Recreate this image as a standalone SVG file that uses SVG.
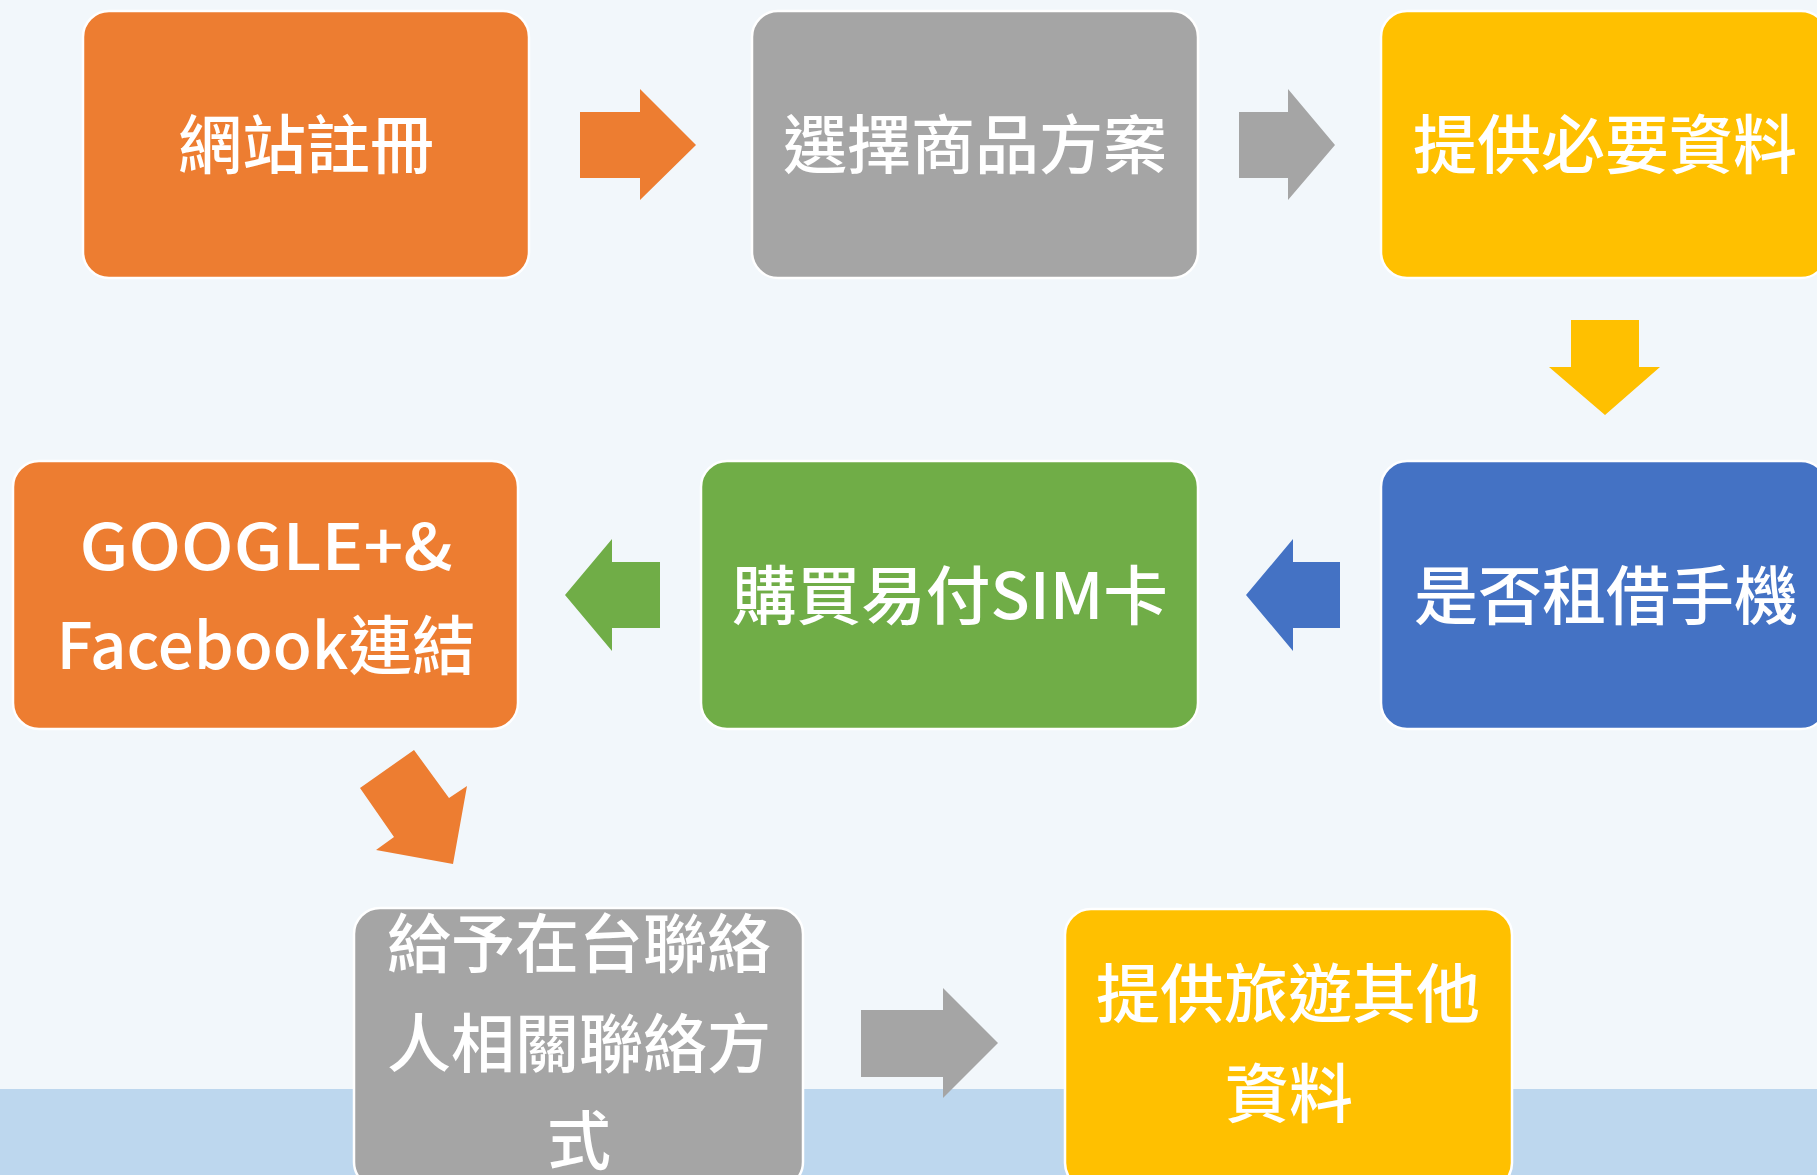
<svg xmlns="http://www.w3.org/2000/svg" width="1817" height="1175" viewBox="0 0 1817 1175">
<style>
.box{stroke:#ffffff;stroke-width:2.5}
.t{font-family:"Noto Sans CJK TC","Noto Sans CJK SC",sans-serif;font-size:64px;font-weight:500;fill:#ffffff;text-anchor:middle;dominant-baseline:central}
.or{fill:#ED7D31}.gr{fill:#A5A5A5}.ye{fill:#FFC000}.bl{fill:#4472C4}.gn{fill:#70AD47}
</style>
<rect x="0" y="0" width="1817" height="1175" fill="#F2F7FB"/>
<rect x="0" y="1089" width="1817" height="86" fill="#BDD7EE"/>
<g id="connectors">
<polygon class="or" points="580,112 640,112 640,89 696,145 640,200 640,178 580,178"/>
<polygon class="gr" points="1239,112 1288,112 1288,89 1335,145 1288,200 1288,178 1239,178"/>
<polygon class="ye" points="1571,320 1639,320 1639,367 1660,367 1605,415 1549,367 1571,367"/>
<polygon class="bl" points="1340,562 1293,562 1293,539 1246,595 1293,651 1293,628 1340,628"/>
<polygon class="gn" points="660,562 612,562 612,539 565,595 612,651 612,628 660,628"/>
<polygon class="or" points="414,750 360,788 394,837 376,850 453,864 467,786 449,798"/>
<polygon class="gr" points="861,1010 943,1010 943,988 998,1043 943,1098 943,1077 861,1077"/>
</g>
<g id="n1"><rect class="box or" x="83" y="11" width="446" height="267" rx="26"/><text class="t" x="306" y="140">網站註冊</text></g>
<g id="n2"><rect class="box gr" x="752" y="11" width="446" height="267" rx="26"/><text class="t" x="975" y="140">選擇商品方案</text></g>
<g id="n3"><rect class="box ye" x="1381" y="11" width="446" height="267" rx="26"/><text class="t" x="1605" y="140">提供必要資料</text></g>
<g id="n4"><rect class="box bl" x="1381" y="461" width="446" height="268" rx="26"/><text class="t" x="1606" y="591">是否租借手機</text></g>
<g id="n5"><rect class="box gn" x="701" y="461" width="497" height="268" rx="26"/><text class="t" x="950" y="591" textLength="436" lengthAdjust="spacingAndGlyphs">購買易付SIM卡</text></g>
<g id="n6"><rect class="box or" x="13" y="461" width="505" height="268" rx="26"/><text class="t" x="266" y="542" textLength="373" lengthAdjust="spacingAndGlyphs">GOOGLE+&amp;</text><text class="t" x="266" y="641" textLength="419" lengthAdjust="spacingAndGlyphs">Facebook連結</text></g>
<g id="n7"><rect class="box gr" x="354" y="908" width="449" height="280" rx="26"/><text class="t" x="579" y="939">給予在台聯絡</text><text class="t" x="579" y="1039">人相關聯絡方</text><text class="t" x="579" y="1136">式</text></g>
<g id="n8"><rect class="box ye" x="1065" y="909" width="447" height="280" rx="26"/><text class="t" x="1288" y="989">提供旅遊其他</text><text class="t" x="1289" y="1089">資料</text></g>
</svg>
